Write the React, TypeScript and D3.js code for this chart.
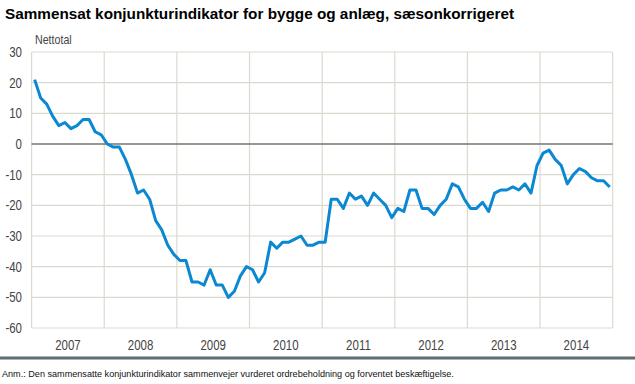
import React from "react";
import * as d3 from "d3";

const title = "Sammensat konjunkturindikator for bygge og anlæg, sæsonkorrigeret";
const unitLabel = "Nettotal";
const note =
  "Anm.: Den sammensatte konjunkturindikator sammenvejer vurderet ordrebeholdning og forventet beskæftigelse.";

const years = ["2007", "2008", "2009", "2010", "2011", "2012", "2013", "2014"];
const yTicks = [30, 20, 10, 0, -10, -20, -30, -40, -50, -60];

// monthly values, Jan 2007 - Dec 2014
const values2007 = [21, 15, 13, 9, 6, 7, 5, 6, 8, 8, 4, 3];
const values2008 = [0, -1, -1, -5, -10, -16, -15, -18, -25, -28, -33, -36];
const values2009 = [-38, -38, -45, -45, -46, -41, -46, -46, -50, -48, -43, -40];
const values2010 = [-41, -45, -42, -32, -34, -32, -32, -31, -30, -33, -33, -32];
const values2011 = [-32, -18, -18, -21, -16, -18, -17, -20, -16, -18, -20, -24];
const values2012 = [-21, -22, -15, -15, -21, -21, -23, -20, -18, -13, -14, -18];
const values2013 = [-21, -21, -19, -22, -16, -15, -15, -14, -15, -13, -16, -7];
const values2014 = [-3, -2, -5, -7, -13, -10, -8, -9, -11, -12, -12, -14];

const series = [
  ...values2007,
  ...values2008,
  ...values2009,
  ...values2010,
  ...values2011,
  ...values2012,
  ...values2013,
  ...values2014,
];

const W = 635;
const H = 384;
const plot = { left: 31.6, right: 612.7, top: 52, bottom: 328 };

const arial = "'Liberation Sans', Arial, sans-serif";

// condensed text: Arial squeezed horizontally (no narrow font installed)
const Narrow = ({
  x,
  y,
  anchor = "start",
  size = 14,
  children,
}: {
  x: number;
  y: number;
  anchor?: string;
  size?: number;
  children: React.ReactNode;
}) => (
  <g transform={`translate(${x},${y}) scale(0.82,1)`}>
    <text
      textAnchor={anchor}
      dy="0.35em"
      fontFamily={arial}
      fontSize={size}
      fill="#444"
    >
      {children}
    </text>
  </g>
);

export default function App() {
  const x = d3
    .scaleLinear()
    .domain([0, series.length])
    .range([plot.left, plot.right]);
  const y = d3.scaleLinear().domain([-60, 30]).range([plot.bottom, plot.top]);

  const line = d3
    .line<number>()
    .x((_, i) => x(i + 0.5))
    .y((d) => y(d));

  return (
    <svg
      width={W}
      height={H}
      style={{ position: "absolute", left: 0, top: 0, background: "#fff" }}
    >
      <text x={5} y={19} fontFamily={arial} fontWeight="bold" fontSize={15.3} fill="#000">
        {title}
      </text>
      <Narrow x={35} y={39.5} size={13}>
        {unitLabel}
      </Narrow>

      {/* horizontal gridlines */}
      {yTicks.map((t) => (
        <g key={t}>
          {t !== 0 && (
            <line
              x1={plot.left}
              x2={plot.right}
              y1={y(t)}
              y2={y(t)}
              stroke="#dcd9d0"
              strokeWidth={1.2}
            />
          )}
          <Narrow x={22} y={y(t)} anchor="end">
            {t}
          </Narrow>
        </g>
      ))}

      {/* vertical year lines */}
      {d3.range(years.length + 1).map((i) => (
        <line
          key={i}
          x1={x(i * 12)}
          x2={x(i * 12)}
          y1={plot.top}
          y2={plot.bottom}
          stroke="#dcd9d0"
          strokeWidth={1.2}
        />
      ))}

      <line
        x1={plot.left}
        x2={plot.right}
        y1={y(0)}
        y2={y(0)}
        stroke="#76766a"
        strokeWidth={1.6}
      />

      {years.map((yr, i) => (
        <Narrow key={yr} x={x(i * 12 + 6)} y={345} anchor="middle">
          {yr}
        </Narrow>
      ))}

      <path
        d={line(series) ?? ""}
        fill="none"
        stroke="#0a88d2"
        strokeWidth={3}
        strokeLinejoin="round"
      />

      <line x1={0} x2={W} y1={358} y2={358} stroke="#5e6d73" strokeWidth={3} />

      <text x={2} y={377} fontFamily={arial} fontSize={9.1} fill="#111">
        {note}
      </text>
    </svg>
  );
}
